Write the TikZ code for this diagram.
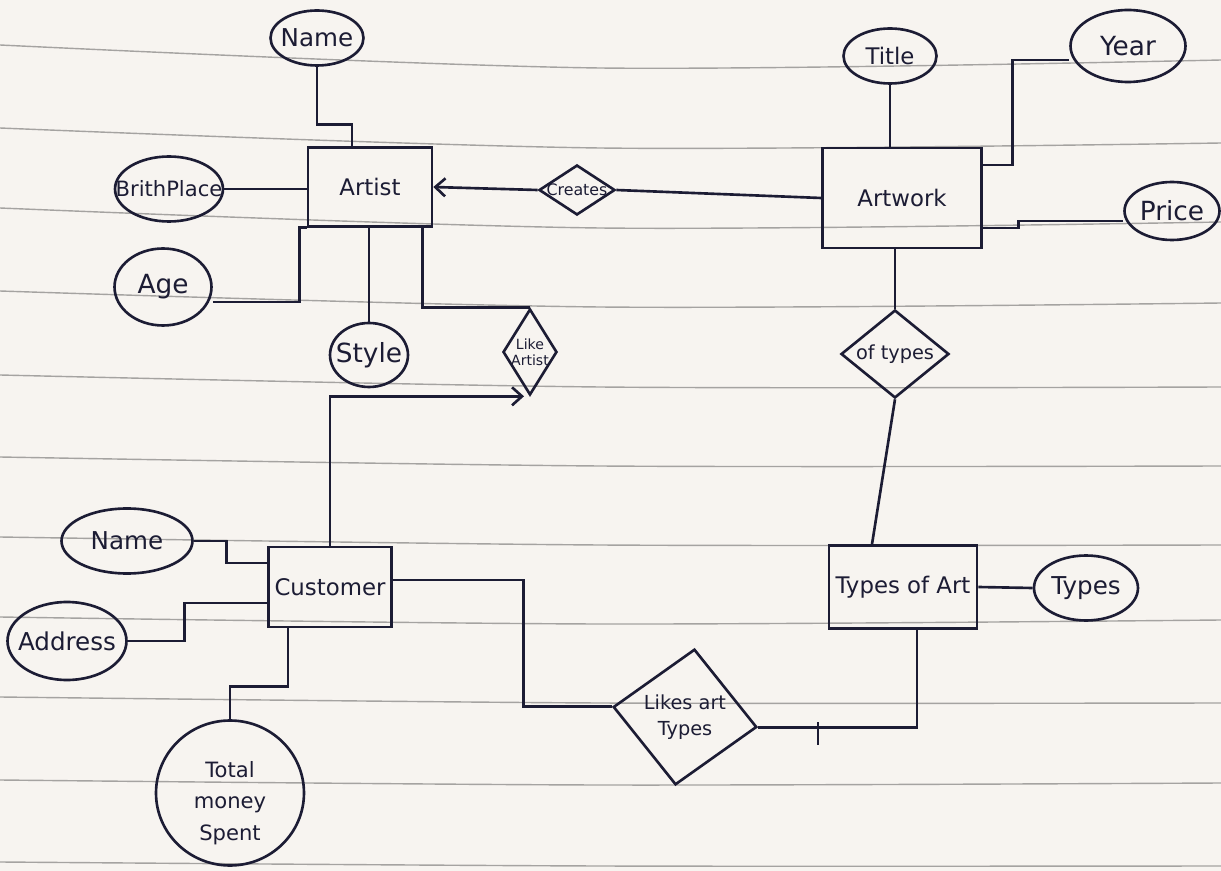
\documentclass[tikz,border=0pt]{standalone}
\usepackage{fontspec}
\setmainfont{DejaVu Sans}
\usetikzlibrary{shapes.geometric,arrows.meta}
\definecolor{ink}{RGB}{28,28,52}
\definecolor{paper}{RGB}{247,244,240}
\definecolor{rulegray}{RGB}{165,163,161}
\tikzset{
  entity/.style={draw=ink, line width=1.5pt, text=ink, font=\fontsize{13pt}{15pt}\selectfont},
  attr/.style={draw=ink, line width=1.5pt, ellipse, inner sep=0pt},
  rel/.style={draw=ink, line width=1.5pt, diamond, inner sep=0pt},
  fs/.style={text=ink, font=\fontsize{#1pt}{#1pt}\selectfont},
  link/.style={draw=ink, line width=1.5pt}
}
\begin{document}
\begin{tikzpicture}[x=0.02cm, y=-0.02cm, >={Straight Barb[length=2mm,width=3.6mm]}]
  % paper
  \fill[paper] (0,0) rectangle (1221,871);
  \useasboundingbox (0,0) rectangle (1221,871);
  \foreach \a/\b/\c in {45/68/60, 128/148/143, 208/228/222, 291/307/303, 375/387/387,
      457/466/466, 537/545/545, 617/624/620, 697/703/703, 780/785/783, 862/866/866}
    \draw[rulegray, line width=0.8pt] plot[smooth] coordinates {(0,\a) (600,\b) (1221,\c)};

  % entities
  \node[entity, minimum width=2.48cm, minimum height=1.58cm] (artist) at (370,187) {Artist};
  \node[entity, minimum width=3.18cm, minimum height=2cm] (artwork) at (902,198) {Artwork};
  \node[entity, minimum width=2.36cm, minimum height=1.6cm] (customer) at (330,587) {Customer};
  \node[entity, minimum width=2.96cm, minimum height=1.66cm] (typesart) at (903,587) {Types of Art};

  % attributes
  \node[attr, minimum width=1.86cm, minimum height=1.1cm, label={[fs=14]center:Name}] (aname) at (317,38) {};
  \node[attr, minimum width=2.16cm, minimum height=1.3cm, label={[fs=12]center:BrithPlace}] (birth) at (169,189) {};
  \node[attr, minimum width=1.94cm, minimum height=1.54cm, label={[fs=15]center:Age}] (age) at (163,287) {};
  \node[attr, minimum width=1.56cm, minimum height=1.28cm, label={[fs=15]center:Style}] (style) at (369,355) {};
  \node[attr, minimum width=1.86cm, minimum height=1.1cm, label={[fs=13]center:Title}] (title) at (890,56) {};
  \node[attr, minimum width=2.3cm, minimum height=1.44cm, label={[fs=15]center:Year}] (year) at (1128,46) {};
  \node[attr, minimum width=1.9cm, minimum height=1.16cm, label={[fs=15]center:Price}] (price) at (1172,211) {};
  \node[attr, minimum width=2.08cm, minimum height=1.3cm, label={[fs=14]center:Types}] (types) at (1086,588) {};
  \node[attr, minimum width=2.62cm, minimum height=1.3cm, label={[fs=14]center:Name}] (cname) at (127,541) {};
  \node[attr, minimum width=2.38cm, minimum height=1.56cm, label={[fs=14]center:Address}] (address) at (67,641) {};
  \node[attr, minimum width=2.96cm, minimum height=2.9cm,
        label={[text=ink, yshift=-0.2cm, font=\fontsize{12pt}{18pt}\selectfont, align=center]center:{Total\\money\\Spent}}] (total) at (230,793) {};

  % relationships
  \node[rel, minimum width=1.52cm, minimum height=1cm, label={[fs=9]center:Creates}] (creates) at (577,190) {};
  \node[rel, minimum width=1.08cm, minimum height=1.72cm,
        label={[text=ink, font=\fontsize{8pt}{9pt}\selectfont, align=center]center:{Like\\Artist}}] (likeartist) at (530,352) {};
  \node[rel, minimum width=2.16cm, minimum height=1.76cm, label={[fs=11]center:of types}] (oftypes) at (895,354) {};
  \node[rel, rotate=-8, minimum width=2.9cm, minimum height=2.74cm,
        label={[text=ink, font=\fontsize{11pt}{15pt}\selectfont, align=center]center:{Likes art\\Types}}] (likestypes) at (685,717) {};

  % Artist links
  \draw[link] (aname.south) -- ++(0,58) -| ([xshift=-0.36cm]artist.north);
  \draw[link] (birth.east) -- (birth.east -| artist.west);
  \draw[link] ([yshift=-0.3cm]age.east) -| ([xshift=-0.14cm]artist.south west) -- (artist.south west);
  \draw[link] (style.north) -- (style.north |- artist.south);
  \draw[link] ([xshift=-0.22cm]artist.south east) |- (likeartist.north);
  \draw[link,->] (creates.west) -- (artist.east);

  % Artwork links
  \draw[link] (creates.east) -- (artwork.west);
  \draw[link] (title.south) -- (title.south |- artwork.north);
  \draw[link] ([yshift=-0.28cm]year.west) -- ++(-57,0) |- ([yshift=0.66cm]artwork.east);
  \draw[link] ([yshift=-0.2cm]price.west) -- ++(-105,0) |- ([yshift=-0.6cm]artwork.east);
  \draw[link] (oftypes.north |- artwork.south) -- (oftypes.north);
  \draw[link] (oftypes.south) -- ([xshift=-0.62cm]typesart.north);

  % Types of Art links
  \draw[link] (typesart.east) -- (types.west);
  \draw[link] ([xshift=0.28cm]typesart.south) |- (likestypes.east);
  \coordinate (tick) at (818,722);
  \draw[link] (tick) -- ++(0,23);

  % Customer links
  \draw[link] ([yshift=0.14cm]customer.east) -- ++(131,0) |- (likestypes.west);
  \draw[link,->] (customer.north) |- ([xshift=-0.12cm]likeartist.south);
  \draw[link] (cname.east) -- ++(33,0) |- ([yshift=0.48cm]customer.west);
  \draw[link] (address.east) -- ++(57,0) |- ([yshift=-0.32cm]customer.west);
  \draw[link] (total.north) -- ++(0,-33) -| ([xshift=-0.84cm]customer.south);
\end{tikzpicture}
\end{document}
